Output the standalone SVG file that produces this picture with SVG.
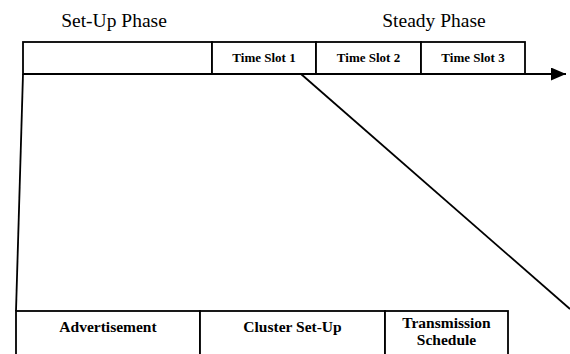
<svg xmlns="http://www.w3.org/2000/svg" width="570" height="354" viewBox="0 0 570 354">
<style>
.box{fill:#fff;stroke:#000;stroke-width:1.8}
.ln{stroke:#000;stroke-width:1.8;fill:none}
.ph{font-family:'Liberation Serif','Times New Roman',serif;font-size:19.5px;text-anchor:middle;fill:#000}
.ts{font-family:'Liberation Serif','Times New Roman',serif;font-size:13px;font-weight:bold;text-anchor:middle;fill:#000}
.bt{font-family:'Liberation Serif','Times New Roman',serif;font-size:15.5px;font-weight:bold;text-anchor:middle;fill:#000}
</style>
<defs>
<marker id="ah" viewBox="0 0 15 13" refX="15" refY="6.5" markerWidth="15" markerHeight="13" markerUnits="userSpaceOnUse" orient="auto">
<path d="M0,0 L15,6.5 L0,13 Z" fill="#000"/>
</marker>
</defs>
<text class="ph" x="114" y="27">Set-Up Phase</text>
<text class="ph" x="434" y="27">Steady Phase</text>
<g id="setup"><rect class="box" x="23" y="42" width="189" height="32"/></g>
<g id="slot1"><rect class="box" x="212" y="42" width="104" height="32"/><text class="ts" x="264" y="62">Time Slot 1</text></g>
<g id="slot2"><rect class="box" x="316" y="42" width="105" height="32"/><text class="ts" x="368.5" y="62">Time Slot 2</text></g>
<g id="slot3"><rect class="box" x="421" y="42" width="104" height="32"/><text class="ts" x="473" y="62">Time Slot 3</text></g>
<g id="adv"><rect class="box" x="16" y="311" width="184" height="50"/><text class="bt" x="108" y="332">Advertisement</text></g>
<g id="cluster"><rect class="box" x="200" y="311" width="185" height="50"/><text class="bt" x="292.5" y="332">Cluster Set-Up</text></g>
<g id="sched"><rect class="box" x="385" y="311" width="123" height="50"/><text class="bt" x="446.5" y="328">Transmission</text><text class="bt" x="446.5" y="345">Schedule</text></g>
<g id="connectors">
<line class="ln" x1="23" y1="74" x2="566" y2="74" marker-end="url(#ah)"/>
<line class="ln" x1="23" y1="74" x2="16" y2="311"/>
<line class="ln" x1="301" y1="74" x2="570" y2="309"/>
</g>
</svg>
